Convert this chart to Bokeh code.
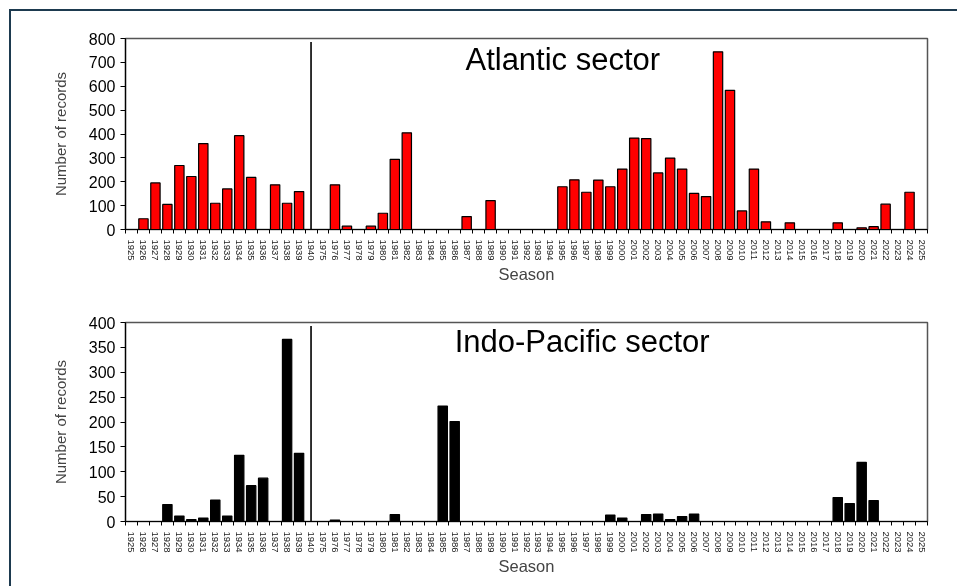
from bokeh.plotting import figure
from bokeh.layouts import column
from bokeh.models import ColumnDataSource, FixedTicker, Range1d, Label
from bokeh.embed import file_html
from bokeh.resources import INLINE

# Seasons: early whaling years, then the modern record
seasons = list(range(1925, 1941)) + list(range(1975, 2026))

atlantic = [0, 45, 195, 105, 268, 222, 360, 110, 170, 393, 218, 0, 187, 110, 159, 0,
            0, 187, 14, 0, 14, 68, 294, 405, 0, 0, 0, 0, 54, 0, 121,
            0, 0, 0, 0, 0, 179, 208, 156, 207, 179, 253, 383, 381, 237, 299,
            253, 151, 138, 744, 583, 78, 253, 32, 0, 28, 0, 0, 0, 28, 0,
            7, 12, 106, 0, 156, 0]

indo_pacific = [0, 0, 0, 34, 11, 4, 7, 43, 11, 133, 72, 87, 0, 366, 137, 0,
                0, 3, 0, 0, 0, 0, 14, 0, 0, 0, 232, 201, 0, 0, 0,
                0, 0, 0, 0, 0, 0, 0, 0, 0, 13, 7, 0, 14, 15, 4,
                10, 15, 0, 0, 0, 0, 0, 0, 0, 0, 0, 0, 0, 48, 36,
                119, 42, 0, 0, 0, 0]

# Divider drawn at the 1940 slot, separating the two eras
divider_season = 1940
divider_top = {"Atlantic sector": 785, "Indo-Pacific sector": 393}

FONT = "Liberation Sans"


def panel(title, values, color, ymax, ystep, frame_h, top_b, bottom_b, title_xy):
    idx = list(range(len(seasons)))
    src = ColumnDataSource(dict(x=idx, top=values))
    p = figure(frame_width=802, frame_height=frame_h,
               min_border_left=114, min_border_right=20,
               min_border_top=top_b, min_border_bottom=bottom_b,
               x_range=Range1d(-0.5, len(seasons) - 0.5),
               y_range=Range1d(0, ymax),
               output_backend="svg", toolbar_location=None, tools="")
    p.vbar(x="x", top="top", width=0.78, bottom=0, source=src,
           fill_color=color, line_color="black", line_width=1.2)

    dx = seasons.index(divider_season)
    p.segment(x0=[dx], y0=[0], x1=[dx], y1=[divider_top[title]],
              line_color="black", line_width=1.6)

    p.add_layout(Label(x=title_xy[0], y=title_xy[1], text=title,
                       text_font=FONT, text_font_size="31px",
                       text_color="black", text_baseline="alphabetic"))

    p.grid.visible = False
    p.background_fill_color = "white"
    p.border_fill_color = "white"
    p.outline_line_color = "#555555"
    p.outline_line_width = 1.5

    xa = p.xaxis[0]
    xa.ticker = FixedTicker(ticks=idx, minor_ticks=[i - 0.5 for i in range(len(seasons) + 1)])
    xa.major_label_overrides = {i: str(s) for i, s in enumerate(seasons)}
    xa.major_label_orientation = "vertical"
    xa.major_label_text_font = FONT
    xa.major_label_text_font_size = "9.5px"
    xa.major_label_text_color = "#222222"
    xa.major_label_standoff = 4
    xa.major_tick_line_color = None
    xa.minor_tick_line_color = "black"
    xa.minor_tick_in = 0
    xa.minor_tick_out = 4
    xa.axis_line_color = "black"
    xa.axis_line_width = 1.2
    xa.axis_label = "Season"
    xa.axis_label_text_font = FONT
    xa.axis_label_text_font_size = "16.5px"
    xa.axis_label_text_font_style = "normal"
    xa.axis_label_standoff = 1

    ya = p.yaxis[0]
    ya.ticker = FixedTicker(ticks=list(range(0, ymax + 1, ystep)), minor_ticks=[])
    ya.major_label_text_font = FONT
    ya.major_label_text_font_size = "16px"
    ya.major_label_text_color = "black"
    ya.major_tick_in = 0
    ya.major_tick_out = 5
    ya.major_tick_line_color = "black"
    ya.axis_line_color = "black"
    ya.axis_line_width = 1.2
    ya.major_label_standoff = 5
    ya.axis_label = "Number of records"
    ya.axis_label_text_font = FONT
    ya.axis_label_text_font_size = "15px"
    ya.axis_label_text_font_style = "normal"
    ya.axis_label_standoff = 17
    return p


p1 = panel("Atlantic sector", atlantic, "#ff0000", 800, 100, 191, 27, 71, (27.9, 712))
p2 = panel("Indo-Pacific sector", indo_pacific, "black", 400, 50, 199, 22, 58, (27.0, 361))

page = column(p1, p2, spacing=0, margin=(11, 0, 0, 11))

html = file_html(page, INLINE)
# page frame: a thin rule along the left and top edges
css = ("<style>html, body { margin: 0; overflow: hidden; background: white; }"
       "body::before { content: ''; position: fixed; left: 9px; top: 9px;"
       " width: 2000px; height: 2000px; border-left: 2px solid #1d3a4f;"
       " border-top: 2px solid #1d3a4f; pointer-events: none; }</style>")
html = html.replace("</head>", css + "</head>", 1)
open("out.html", "w").write(html)
